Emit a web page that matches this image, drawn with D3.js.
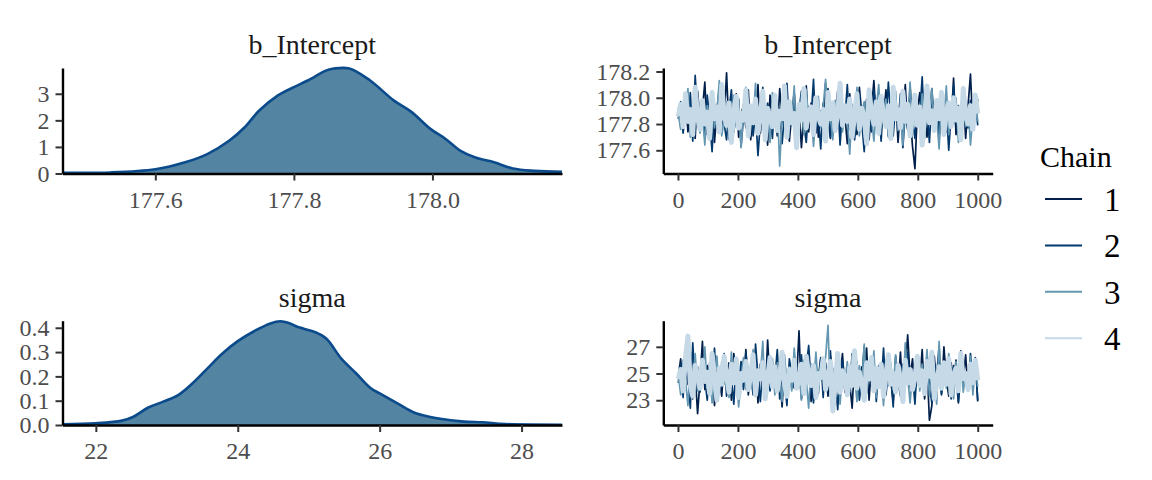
<!DOCTYPE html>
<html><head><meta charset="utf-8">
<script src="https://cdn.jsdelivr.net/npm/d3@7"></script>
<style>body{margin:0;background:#fff} svg{display:block}</style>
</head><body><svg id="c" width="1152" height="480"></svg>
<script>
const params = ["b_Intercept", "sigma"];
const chains = ["1", "2", "3", "4"];
const chainColors = ["#011f4b", "#03396c", "#6497b1", "#c6d9e7"];

// density curves
const densInterceptX = [177.466,177.535,177.60,177.643,177.675,177.707,177.729,177.75,177.777,177.80,177.82,177.847,177.858,177.88,177.91,177.944,177.97,177.997,178.019,178.04,178.062,178.089,178.116,178.148,178.187];
const densInterceptY = [0.03,0.04,0.16,0.42,0.73,1.24,1.74,2.37,2.94,3.25,3.5,3.88,3.95,3.95,3.5,2.75,2.31,1.68,1.3,0.86,0.6,0.42,0.19,0.1,0.06];
const densSigmaX = [21.53,22.0,22.37,22.53,22.74,22.95,23.16,23.36,23.57,23.78,24.0,24.25,24.46,24.6,24.72,24.83,25.09,25.25,25.46,25.67,25.88,26.0,26.25,26.51,26.83,27.19,27.45,27.77,28.57];
const densSigmaY = [0.003,0.007,0.018,0.034,0.072,0.096,0.123,0.171,0.232,0.293,0.345,0.389,0.418,0.427,0.42,0.405,0.382,0.355,0.273,0.212,0.150,0.130,0.089,0.048,0.027,0.014,0.011,0.004,0.001];

// tick labels
const densXTicksIntercept = [177.6, 177.8, 178.0];
const densXTicksSigma = [22, 24, 26, 28];
const densYTicksIntercept = [0, 1, 2, 3];
const densYTicksSigma = [0, 0.1, 0.2, 0.3, 0.4];
const traceYTicksIntercept = [177.6, 177.8, 178.0, 178.2];
const traceYTicksSigma = [23, 25, 27];
const traceXTicks = [0, 200, 400, 600, 800, 1000];

// trace draws (thinned, one value per ~8 iterations)
const traceIntercept1 = [177.92,177.78,177.85,178.01,177.74,177.88,177.96,177.69,178.05,177.83,
177.91,178.12,177.72,177.86,177.99,177.66,177.90,178.08,177.79,177.84,
178.19,177.75,177.93,177.81,178.03,177.70,177.87,177.95,177.77,178.06,
177.68,177.89,177.82,178.10,177.73,177.94,177.86,177.64,178.02,177.80,
177.91,177.71,178.07,177.85,177.76,177.98,177.67,177.88,178.04,177.79,
177.93,177.62,177.87,178.09,177.74,177.96,177.83,178.00,177.70,177.90,
177.78,178.11,177.84,177.69,177.97,177.81,178.05,177.75,177.92,177.86,
177.65,178.03,177.80,177.94,177.72,178.08,177.87,177.77,177.99,177.68,
177.91,178.13,177.82,177.73,177.95,177.85,178.06,177.71,177.89,177.79,
178.01,177.66,177.93,177.84,178.10,177.76,177.88,177.63,177.46,177.90,
178.04,177.78,177.95,177.70,177.86,178.07,177.81,177.92,177.67,178.02,
177.85,177.74,177.97,177.80,178.15,177.72,177.89,177.83,178.05,177.69,
177.94,178.18,177.77,177.87,177.99];
const traceIntercept2 = [177.84,177.97,177.73,177.90,177.81,178.04,177.67,178.17,177.86,177.77,
177.93,177.70,178.02,177.83,177.59,177.95,177.88,177.76,178.09,177.80,
177.68,177.91,178.06,177.74,177.87,177.99,177.63,177.85,178.01,177.78,
177.94,177.71,177.89,177.56,177.82,178.08,177.75,177.96,177.86,177.69,
178.03,177.80,177.92,177.65,177.88,178.11,177.77,177.84,177.98,177.72,
177.90,178.05,177.79,177.66,177.93,177.85,178.14,177.73,177.87,177.61,
177.96,177.82,178.07,177.70,177.89,177.78,178.00,177.64,177.91,177.84,
178.10,177.76,177.94,177.68,177.86,178.02,177.81,177.59,177.97,177.88,
177.74,178.06,177.83,177.92,177.67,177.99,177.79,178.12,177.85,177.71,
177.95,177.80,178.03,177.62,177.89,177.76,178.08,177.84,177.69,177.93,
177.87,178.16,177.75,177.90,177.66,178.01,177.82,177.96,177.73,178.05,
177.78,177.92,177.60,177.88,178.09,177.81,177.94,177.70,178.02,177.85,
177.77,177.98,177.83,178.00,177.79];
const traceIntercept3 = [177.88,177.76,177.95,177.82,178.07,177.70,177.91,177.85,178.00,177.73,
177.87,177.64,177.94,177.80,178.05,177.77,177.89,178.13,177.71,177.84,
177.97,177.68,177.86,178.02,177.79,177.92,177.62,177.88,178.08,177.75,
177.90,177.83,178.11,177.72,177.86,177.99,177.78,177.93,177.66,178.04,
177.81,177.95,177.48,177.87,178.03,177.74,177.91,177.80,178.09,177.69,
177.85,177.96,177.72,178.06,177.83,177.90,177.63,177.88,178.01,177.77,
177.93,178.14,177.79,177.86,177.68,177.98,177.82,178.04,177.74,177.90,
177.84,177.57,177.95,177.80,178.08,177.71,177.89,177.97,177.76,178.02,
177.86,177.67,177.92,178.10,177.78,177.85,177.99,177.70,177.93,177.81,
178.05,177.75,177.88,177.64,177.96,177.83,178.12,177.73,177.90,177.86,
177.79,178.03,177.69,177.94,177.82,178.07,177.76,177.87,177.61,177.98,
177.84,178.09,177.72,177.91,177.80,178.00,177.66,177.89,178.04,177.78,
177.93,177.64,177.86,178.01,177.82];
const traceIntercept4 = [177.86,177.95,177.78,178.03,177.82,177.91,177.72,178.08,177.85,177.76,
177.98,177.80,177.89,177.69,178.04,177.84,177.93,177.74,178.10,177.87,
177.79,177.96,177.66,177.90,178.01,177.77,177.88,177.83,178.06,177.71,
177.94,177.81,177.99,177.73,177.87,178.05,177.68,177.92,177.85,177.78,
178.02,177.75,177.90,177.84,178.09,177.70,177.97,177.81,177.88,177.62,
177.95,177.83,178.07,177.77,177.89,177.93,177.72,178.00,177.86,177.80,
177.91,177.67,178.04,177.84,177.96,177.75,177.88,178.11,177.79,177.94,
177.82,177.99,177.70,177.87,178.03,177.76,177.92,177.85,177.65,178.06,
177.89,177.80,177.97,177.73,178.01,177.86,177.78,177.94,177.69,178.08,
177.84,177.91,177.77,178.05,177.82,177.95,177.71,177.88,178.02,177.79,
177.93,177.64,177.86,178.09,177.81,177.90,177.75,177.98,177.84,178.04,
177.72,177.89,177.96,177.78,178.00,177.83,177.92,177.68,178.07,177.87,
177.80,177.94,177.76,178.02,177.88];

const traceSigma1 = [24.8,26.1,23.5,25.3,24.2,26.6,23.1,25.0,22.0,24.5,
27.4,23.8,25.6,24.1,26.3,22.6,25.2,24.7,23.3,26.0,
24.4,25.8,23.0,26.5,24.9,23.6,25.4,24.0,26.8,23.4,
25.1,24.3,26.2,22.8,25.7,24.6,23.2,27.5,24.2,25.5,
23.7,26.0,24.8,22.5,25.9,24.1,25.2,23.9,25.3,24.5,
28.2,23.1,25.0,24.4,26.7,22.9,25.6,24.2,23.5,26.1,
24.7,25.4,23.3,26.3,24.0,22.7,25.8,24.9,26.5,23.6,
25.2,24.3,22.4,26.0,24.8,23.8,25.5,24.1,26.9,23.0,
25.7,24.6,23.4,24.8,24.2,25.1,23.7,26.2,24.5,22.9,
25.9,24.0,26.6,23.2,25.3,27.9,24.7,26.1,23.6,25.0,
24.4,26.8,23.1,25.6,21.5,22.6,26.3,24.2,25.4,23.5,
27.0,24.6,23.3,25.8,24.1,26.0,22.8,25.2,24.5,26.4,
23.7,25.5,24.3,26.2,22.9];
const traceSigma2 = [24.3,25.7,23.2,26.4,24.9,22.4,27.3,24.1,25.5,23.6,
26.2,24.6,23.0,25.8,24.4,26.9,23.5,25.1,24.0,26.5,
23.3,25.4,24.7,22.7,26.0,24.2,25.9,23.8,26.6,24.5,
25.0,23.4,27.2,24.8,22.9,25.6,24.1,26.3,23.7,25.2,
24.6,26.8,23.1,25.3,24.4,22.6,26.1,24.9,23.9,25.7,
24.0,26.4,23.5,25.5,27.1,24.3,22.8,25.0,24.7,26.2,
23.2,25.8,24.5,26.7,23.6,25.1,22.3,24.8,26.0,24.2,
25.4,23.8,26.5,24.1,25.9,23.0,24.6,27.0,23.7,25.3,
24.4,26.1,22.9,25.6,24.0,26.9,23.4,25.2,24.8,22.5,
26.3,24.5,23.3,25.7,24.2,26.6,23.9,25.0,22.7,26.0,
24.7,25.5,23.6,26.4,24.1,22.8,25.8,24.9,27.0,23.4,
25.3,24.3,26.2,23.1,25.6,24.6,22.9,26.7,24.0,25.1,
23.8,26.5,24.4,25.9,23.0];
const traceSigma3 = [24.9,23.4,26.0,24.5,22.6,25.7,24.1,26.5,23.7,25.2,
24.6,27.0,23.9,25.4,22.8,24.8,26.3,23.5,25.9,24.2,
25.6,23.2,26.6,24.4,25.1,22.5,24.7,26.2,23.8,25.5,
24.0,26.8,23.6,25.3,24.9,27.4,23.1,25.0,24.3,26.1,
23.4,25.8,24.6,22.9,26.4,24.2,25.5,23.7,26.9,24.8,
25.2,23.0,26.0,24.5,22.4,25.7,24.1,26.6,23.9,25.3,
24.7,26.2,28.6,23.3,25.4,24.0,26.5,22.7,25.1,24.4,
25.9,23.6,26.3,24.8,22.9,25.6,24.2,27.2,23.5,25.0,
24.5,26.7,23.2,25.3,24.9,22.6,26.0,24.1,25.8,23.8,
26.4,24.3,25.5,23.0,27.3,24.7,22.8,25.2,24.0,26.1,
23.7,25.7,24.4,26.8,23.3,25.0,24.6,22.7,27.4,24.2,
25.4,23.9,26.5,24.8,23.1,25.9,24.3,26.2,23.6,25.1,
24.5,26.3,23.4,25.6,24.0];
const traceSigma4 = [24.6,25.3,23.7,26.2,27.8,24.1,23.3,25.6,24.9,23.9,
26.0,24.4,25.1,23.5,26.5,24.7,23.0,25.4,24.2,26.3,
24.8,23.6,25.7,24.3,26.1,23.2,25.0,24.5,25.9,23.8,
24.9,26.4,23.4,25.2,24.6,25.8,23.1,24.7,26.2,24.0,
25.5,23.7,24.8,26.6,24.2,23.3,25.3,24.5,26.0,23.9,
24.4,25.7,23.5,26.3,24.9,24.1,25.6,23.2,25.0,24.7,
26.1,23.8,24.6,25.9,22.2,24.3,26.5,23.6,25.2,24.8,
23.4,25.5,24.1,26.7,23.9,25.1,24.4,23.0,25.8,24.6,
26.2,23.7,25.4,24.0,25.7,23.3,24.9,26.4,24.2,25.0,
23.6,25.6,24.5,22.9,26.0,24.3,25.3,23.8,24.7,26.3,
24.1,25.2,23.5,25.9,24.8,26.6,23.1,24.4,25.5,23.9,
25.8,24.2,26.1,23.4,24.9,25.4,23.7,26.5,24.6,25.0,
23.8,25.7,24.3,26.0,24.5];

const traceIntercept = [traceIntercept1, traceIntercept2, traceIntercept3, traceIntercept4];
const traceSigma = [traceSigma1, traceSigma2, traceSigma3, traceSigma4];

// ---------- drawing ----------
const svg = d3.select("#c");
const FONT = '"Liberation Serif", "DejaVu Serif", "Noto Serif", "Times New Roman", Times, serif';
const rows = [{y0: 68, y1: 173.5}, {y0: 320.7, y1: 425}];
const densCol = {x0: 62.5, x1: 562};
const traceCol = {x0: 663.3, x1: 992.7};

const panels = [
  {name: params[0], dx: densInterceptX, dy: densInterceptY, xt: densXTicksIntercept, yt: densYTicksIntercept,
   xf: d3.format(".1f"), yf: d3.format("d"), tr: traceIntercept, tyt: traceYTicksIntercept, tyf: d3.format(".1f")},
  {name: params[1], dx: densSigmaX, dy: densSigmaY, xt: densXTicksSigma, yt: densYTicksSigma,
   xf: d3.format("d"), yf: d3.format(".1f"), tr: traceSigma, tyt: traceYTicksSigma, tyf: d3.format("d")}
];

function styleAxis(g) {
  g.attr("font-family", FONT).attr("font-size", 24);
  g.select(".domain").attr("stroke", "#000").attr("stroke-width", 2.4);
  g.selectAll(".tick line").attr("stroke", "#333").attr("stroke-width", 2);
  g.selectAll(".tick text").attr("fill", "#4d4d4d");
}

panels.forEach((p, r) => {
  const row = rows[r];
  // density
  const x = d3.scaleLinear().domain(d3.extent(p.dx)).range([densCol.x0, densCol.x1]);
  const y = d3.scaleLinear().domain([0, d3.max(p.dy) * 1.005]).range([row.y1, row.y0]);
  const pts = p.dx.map((v, i) => [v, p.dy[i]]);
  svg.append("path").datum(pts)
    .attr("d", d3.area().x(d => x(d[0])).y0(y(0)).y1(d => y(d[1])).curve(d3.curveCatmullRom))
    .attr("fill", "#5384a1");
  svg.append("path").datum(pts)
    .attr("d", d3.line().x(d => x(d[0])).y(d => y(d[1])).curve(d3.curveCatmullRom))
    .attr("fill", "none").attr("stroke", "#0b4a8b").attr("stroke-width", 2.6);
  const gx = svg.append("g").attr("transform", `translate(0,${row.y1})`)
    .call(d3.axisBottom(x).tickValues(p.xt).tickFormat(p.xf).tickSize(7).tickSizeOuter(0).tickPadding(10));
  styleAxis(gx);
  const gy = svg.append("g").attr("transform", `translate(${densCol.x0},0)`)
    .call(d3.axisLeft(y).tickValues(p.yt).tickFormat(p.yf).tickSize(7).tickSizeOuter(0).tickPadding(6));
  styleAxis(gy);
  svg.append("text").attr("x", (densCol.x0 + densCol.x1) / 2).attr("y", row.y0 - 14)
    .attr("text-anchor", "middle").attr("font-family", FONT).attr("font-size", 28).attr("fill", "#1a1a1a")
    .text(p.name);

  // trace
  const all = p.tr.flat();
  const ext = d3.extent(all);
  const pad = (ext[1] - ext[0]) * 0.05;
  const tx = d3.scaleLinear().domain([1 - 49.95, 1000 + 49.95]).range([traceCol.x0, traceCol.x1]);
  const ty = d3.scaleLinear().domain([ext[0] - pad, ext[1] + pad]).range([row.y1, row.y0]);
  p.tr.forEach((vals, c) => {
    const n = vals.length;
    svg.append("path").datum(vals)
      .attr("d", d3.line().x((d, i) => tx(1 + i * 999 / (n - 1))).y(d => ty(d)))
      .attr("fill", "none").attr("stroke", chainColors[c]).attr("stroke-width", c === 3 ? 5 : 1.7)
      .attr("stroke-linejoin", "round");
  });
  const tgx = svg.append("g").attr("transform", `translate(0,${row.y1})`)
    .call(d3.axisBottom(tx).tickValues(traceXTicks).tickFormat(d3.format("d")).tickSize(7).tickSizeOuter(0).tickPadding(10));
  styleAxis(tgx);
  const tgy = svg.append("g").attr("transform", `translate(${traceCol.x0},0)`)
    .call(d3.axisLeft(ty).tickValues(p.tyt).tickFormat(p.tyf).tickSize(7).tickSizeOuter(0).tickPadding(6));
  styleAxis(tgy);
  svg.append("text").attr("x", (traceCol.x0 + traceCol.x1) / 2).attr("y", row.y0 - 14)
    .attr("text-anchor", "middle").attr("font-family", FONT).attr("font-size", 28).attr("fill", "#1a1a1a")
    .text(p.name);
});

// legend
svg.append("text").attr("x", 1040).attr("y", 166.5).attr("font-family", FONT).attr("font-size", 30)
  .attr("fill", "#000").text("Chain");
const legY = d3.scalePoint().domain(chains).range([199, 338.3]);
chains.forEach((ch, i) => {
  svg.append("line").attr("x1", 1045).attr("x2", 1082).attr("y1", legY(ch)).attr("y2", legY(ch))
    .attr("stroke", chainColors[i]).attr("stroke-width", 2);
  svg.append("text").attr("x", 1104).attr("y", legY(ch) + 12).attr("font-family", FONT).attr("font-size", 33)
    .attr("fill", "#000").text(ch);
});
</script></body></html>
